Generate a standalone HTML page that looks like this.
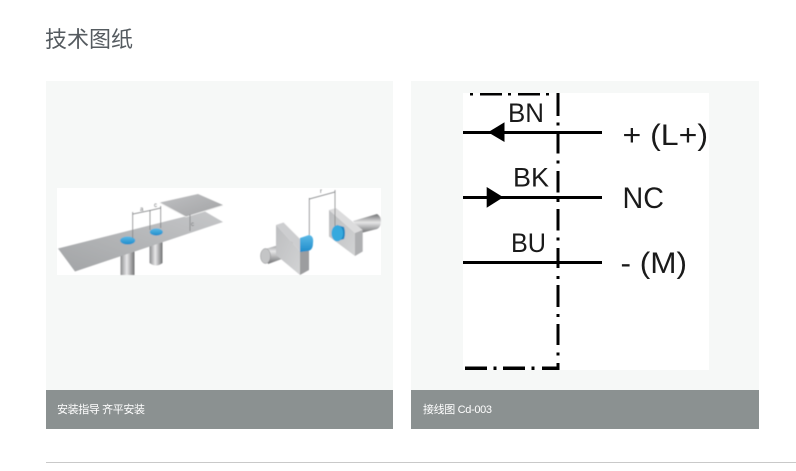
<!DOCTYPE html>
<html><head><meta charset="utf-8">
<style>
html,body{margin:0;padding:0;background:#fff;width:796px;height:471px;overflow:hidden}
svg{display:block}
</style></head>
<body>
<svg width="796" height="471" viewBox="0 0 796 471" xmlns="http://www.w3.org/2000/svg">
<defs>
<linearGradient id="plate" x1="0" y1="1" x2="1" y2="0"><stop offset="0" stop-color="#a2a4a6"/><stop offset="1" stop-color="#c6c7c9"/></linearGradient>
<linearGradient id="plate2" x1="0" y1="0" x2="1" y2="1"><stop offset="0" stop-color="#bfc0c2"/><stop offset="1" stop-color="#a2a3a5"/></linearGradient>
<linearGradient id="cylV" x1="0" y1="0" x2="1" y2="0"><stop offset="0" stop-color="#8a8b8d"/><stop offset=".45" stop-color="#e8e8e9"/><stop offset="1" stop-color="#6f7072"/></linearGradient>
<linearGradient id="cylH" x1="0" y1="0" x2="0" y2="1"><stop offset="0" stop-color="#6f7072"/><stop offset=".45" stop-color="#e6e6e7"/><stop offset="1" stop-color="#6f7072"/></linearGradient>
<linearGradient id="blue" x1="0" y1="0" x2="0" y2="1"><stop offset="0" stop-color="#5bb9e6"/><stop offset="1" stop-color="#1f8ccb"/></linearGradient>
<linearGradient id="side" x1="0" y1="0" x2="1" y2="1"><stop offset="0" stop-color="#bdbec0"/><stop offset="1" stop-color="#d2d3d4"/></linearGradient>
<filter id="soft" x="-5%" y="-5%" width="110%" height="110%"><feGaussianBlur stdDeviation="0.4"/></filter>
</defs>

<text x="45" y="47" font-family="'Liberation Sans','Noto Sans CJK SC',sans-serif" font-size="22" fill="#555b60">技术图纸</text>

<rect x="46" y="81" width="347" height="309" fill="#f6f8f7"/>
<rect x="46" y="390" width="347" height="39" fill="#8b9191"/>
<text x="57" y="413" font-family="'Liberation Sans','Noto Sans CJK SC',sans-serif" font-size="11" fill="#fff" textLength="88">安装指导 齐平安装</text>

<rect x="411" y="81" width="348" height="309" fill="#f6f8f7"/>
<rect x="411" y="390" width="348" height="39" fill="#8b9191"/>
<text x="423" y="413" font-family="'Liberation Sans','Noto Sans CJK SC',sans-serif" font-size="11" fill="#fff" textLength="69">接线图 Cd-003</text>

<rect x="46" y="462" width="750" height="1" fill="#c9c9c9"/>

<rect x="57" y="188" width="324" height="87" fill="#fff"/>
<g filter="url(#soft)">
  <rect x="120.500" y="250" width="14" height="25" fill="url(#cylV)"/>
  <path d="M149.500 240V263Q156 268 162.500 263V240Z" fill="url(#cylV)"/>
  <polygon points="58,248.500 75,271.500 223,222 205,211.500" fill="url(#plate)"/>
  <polygon points="160,202.500 198,194 223,205 186,216.500" fill="url(#plate2)"/>
  <path d="M160 203L186 217L223 205.500" fill="none" stroke="#efefef" stroke-width=".8"/>
  <ellipse cx="127.700" cy="240.500" rx="7.500" ry="4" fill="url(#blue)"/>
  <ellipse cx="156.300" cy="232" rx="6.500" ry="3.600" fill="url(#blue)"/>
  <g stroke="#77797b" stroke-width=".7" fill="none">
    <path d="M132.700 212V238M150 210V230M160.700 206V228"/>
    <path d="M133 214L150 210.500M150 210.500L160.700 208"/>
    <path d="M190 214.500V231"/>
  </g>
  <text x="140" y="211" font-family="'Liberation Sans',sans-serif" font-size="6" fill="#6f7173">a</text>
  <text x="154" y="207" font-family="'Liberation Sans',sans-serif" font-size="6" fill="#6f7173">c</text>
  <text x="191" y="226" font-family="'Liberation Sans',sans-serif" font-size="6" fill="#6f7173">c</text>

  <polygon points="265,249 293,241 293,255 268,264" fill="url(#cylH)"/>
  <ellipse cx="265.500" cy="256" rx="5" ry="7.500" fill="#c4c5c6" stroke="#8c8d8f" stroke-width=".5"/>
  <polygon points="276,225 283.500,222.500 309,248 300,251" fill="#cdced0"/>
  <polygon points="276,225 300,251 300,275 276,255" fill="url(#side)"/>
  <polygon points="300,275 309,270 309,248 300,251" fill="#9c9d9f"/>
  <path d="M300 238L309 235Q314 236 313 243Q313 250 308 251L300 252Z" fill="url(#blue)"/>
  <path d="M353 221L377 214Q381 216 381 221.500Q381 227 377 229L361 233Z" fill="url(#cylH)"/>
  <polygon points="329,210 336,208 362.700,230 355,233" fill="#dcdcdd"/>
  <polygon points="329,210 355,233 355,256 329,236.500" fill="url(#side)"/>
  <polygon points="355,233 362.700,230 362.700,251.500 355,256" fill="#aeafb1"/>
  <path d="M337 225L344 227Q346 233 344 239L337 241Z" fill="#1f86c0"/>
  <ellipse cx="337.300" cy="233.300" rx="5.800" ry="8" fill="#36a9de"/>
  <g stroke="#77797b" stroke-width=".7" fill="none">
    <path d="M309.300 198V235M335 190V226M309.300 199L335 192"/>
  </g>
  <text x="320" y="193" font-family="'Liberation Sans',sans-serif" font-size="6" fill="#6f7173">r</text>
</g>

<rect x="463" y="93" width="246" height="277" fill="#fff"/>
<g fill="#000">
  <rect x="463" y="131" width="139" height="3"/>
  <rect x="463" y="196" width="139" height="3"/>
  <rect x="463" y="261" width="139" height="3"/>
  <polygon points="488,132.300 504.500,122.300 504.500,142"/>
  <polygon points="486.700,187 503.300,197.300 486.700,207.700"/>
  <g transform="translate(0.500 0)">
  <rect x="556" y="93" width="3" height="23"/>
  <rect x="556" y="122.500" width="3" height="3"/>
  <rect x="556" y="131.500" width="3" height="22"/>
  <rect x="556" y="160.500" width="3" height="3"/>
  <rect x="556" y="171" width="3" height="21.500"/>
  <rect x="556" y="199" width="3" height="3"/>
  <rect x="556" y="209" width="3" height="21.500"/>
  <rect x="556" y="237.500" width="3" height="3"/>
  <rect x="556" y="248" width="3" height="20"/>
  <rect x="556" y="276" width="3" height="3"/>
  <rect x="556" y="285" width="3" height="22"/>
  <rect x="556" y="314" width="3" height="3"/>
  <rect x="556" y="324" width="3" height="21"/>
  <rect x="556" y="352.500" width="3" height="3"/>
  <rect x="556" y="363" width="3" height="7"/>
  </g>
  <rect x="465" y="366.500" width="22" height="3.500"/>
  <rect x="493.500" y="366.500" width="3" height="3.500"/>
  <rect x="503" y="366.500" width="22" height="3.500"/>
  <rect x="531.500" y="366.500" width="3" height="3.500"/>
  <rect x="542" y="366.500" width="17.500" height="3.500"/>
  <rect x="470" y="93" width="3" height="2.500"/>
  <rect x="480" y="93" width="22" height="2.500"/>
  <rect x="508" y="93" width="3" height="2.500"/>
  <rect x="518" y="93" width="22" height="2.500"/>
  <rect x="546" y="93" width="3" height="2.500"/>
</g>
<g font-family="'Liberation Sans',sans-serif" fill="#1a1a1a">
  <text x="508" y="122" font-size="27" textLength="36" lengthAdjust="spacingAndGlyphs">BN</text>
  <text x="513" y="186.500" font-size="27" textLength="36" lengthAdjust="spacingAndGlyphs">BK</text>
  <text x="511" y="252" font-size="27" textLength="35" lengthAdjust="spacingAndGlyphs">BU</text>
  <text x="622.500" y="145" font-size="30" textLength="85.500" lengthAdjust="spacingAndGlyphs">+ (L+)</text>
  <text x="622.500" y="208" font-size="30" textLength="41.500" lengthAdjust="spacingAndGlyphs">NC</text>
  <text x="620.500" y="273" font-size="30" textLength="66.500" lengthAdjust="spacingAndGlyphs">- (M)</text>
</g>
</svg>
</body></html>
